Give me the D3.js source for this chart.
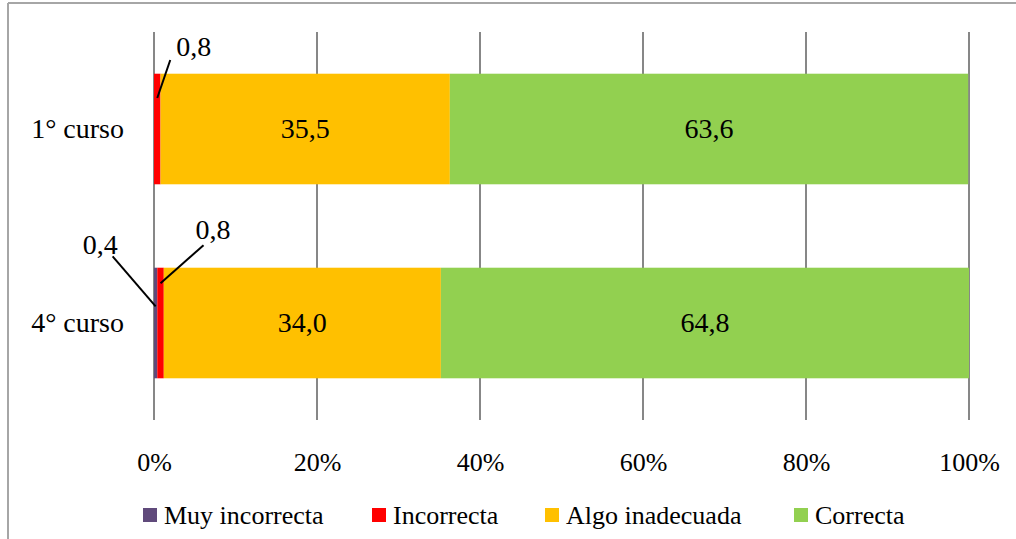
<!DOCTYPE html>
<html>
<head>
<meta charset="utf-8">
<script src="https://cdn.jsdelivr.net/npm/d3@7"></script>
<style>
  html, body { margin: 0; padding: 0; background: #fff; }
  svg { display: block; font-family: "Liberation Serif", "DejaVu Serif", serif; }
</style>
</head>
<body>
<svg id="chart" width="1016" height="539"></svg>
<script>
// Categories and series (percentages)
const categories = ["1° curso", "4° curso"];
const seriesNames = ["Muy incorrecta", "Incorrecta", "Algo inadecuada", "Correcta"];
const muyIncorrecta = [0, 0.4];
const incorrecta = [0.8, 0.8];
const algoInadecuada = [35.5, 34.0];
const correcta = [63.6, 64.8];
const tickValues = [0, 20, 40, 60, 80, 100];
const colors = ["#604a7b", "#ff0000", "#ffc000", "#92d050"];

const seriesValues = [muyIncorrecta, incorrecta, algoInadecuada, correcta];
const rows = categories.map((c, i) => {
  const r = { cat: c };
  seriesNames.forEach((s, j) => r[s] = seriesValues[j][i]);
  return r;
});

const svg = d3.select("#chart");
const W = 1016, H = 539;
const FONT = "Liberation Serif, DejaVu Serif, serif";

// outer frame (left and top edges visible)
svg.append("line").attr("x1", 8).attr("x2", 8).attr("y1", 3).attr("y2", H)
  .attr("stroke", "#a6a6a6").attr("stroke-width", 2);
svg.append("line").attr("x1", 8).attr("x2", W).attr("y1", 3).attr("y2", 3)
  .attr("stroke", "#a6a6a6").attr("stroke-width", 2);

const plot = { left: 154, right: 969, top: 32, bottom: 420 };
const x = d3.scaleLinear().domain([0, 100]).range([plot.left, plot.right]);
const y = d3.scaleBand().domain(categories).range([plot.top, plot.bottom]).paddingInner(0.43).paddingOuter(0.215);

// vertical gridlines
svg.append("g").selectAll("line").data(tickValues).join("line")
  .attr("x1", d => x(d)).attr("x2", d => x(d))
  .attr("y1", plot.top).attr("y2", plot.bottom)
  .attr("stroke", "#878787").attr("stroke-width", 2);

// x axis tick labels
const xAxis = d3.axisBottom(x).tickValues(tickValues).tickFormat(d => d + "%").tickSize(0).tickPadding(0);
const ax = svg.append("g").attr("transform", `translate(0, ${plot.bottom + 51})`).call(xAxis);
ax.select(".domain").remove();
ax.selectAll("text").attr("dy", 0).attr("font-size", 26).attr("fill", "#000")
  .attr("font-family", FONT);

// y axis category labels
const yAxis = d3.axisLeft(y).tickSize(0).tickPadding(0);
const ay = svg.append("g").attr("transform", `translate(${plot.left - 30}, 0)`).call(yAxis);
ay.select(".domain").remove();
ay.selectAll("text").attr("dy", "0.33em").attr("font-size", 28).attr("fill", "#000")
  .attr("font-family", FONT);

// stacked bars
const stack = d3.stack().keys(seriesNames);
const layers = stack(rows);

const gLayers = svg.append("g").selectAll("g").data(layers).join("g")
  .attr("fill", (d, i) => colors[i]);
gLayers.selectAll("rect").data(d => d).join("rect")
  .attr("x", d => x(d[0]))
  .attr("width", d => Math.max(0, x(d[1]) - x(d[0])))
  .attr("y", d => y(d.data.cat))
  .attr("height", y.bandwidth());

// value labels inside the wide segments
const fmt = v => v.toFixed(1).replace(".", ",");
[2, 3].forEach(li => {
  svg.append("g").selectAll("text").data(layers[li]).join("text")
    .attr("x", d => (x(d[0]) + x(d[1])) / 2)
    .attr("y", d => y(d.data.cat) + y.bandwidth() / 2)
    .attr("dy", "0.33em")
    .attr("text-anchor", "middle")
    .attr("font-size", 28)
    .text(d => fmt(d[1] - d[0]));
});

// leader-line labels for the thin segments
const leaders = [
  { layer: 1, row: 0, ax: 0.22, lx: 13, ly: -38, tx: 19, ty: -42 },
  { layer: 0, row: 1, ax: 0.35, lx: -43, ly: -50, tx: -73, ty: -52 },
  { layer: 1, row: 1, ax: 0.14, lx: 43, ly: -38, tx: 35, ty: -44 }
];
const gL = svg.append("g");
leaders.forEach(l => {
  const seg = layers[l.layer][l.row];
  const mx = (x(seg[0]) + x(seg[1])) / 2;
  const my = y(seg.data.cat) + y.bandwidth() * l.ax;
  gL.append("line")
    .attr("x1", mx).attr("y1", my)
    .attr("x2", mx + l.lx).attr("y2", my + l.ly)
    .attr("stroke", "#000").attr("stroke-width", 2);
  gL.append("text")
    .attr("x", mx + l.tx).attr("y", my + l.ty)
    .attr("font-size", 28)
    .text(fmt(seg[1] - seg[0]));
});

// legend
const legendX = [143, 372, 545, 794];
const lg = svg.append("g").attr("transform", "translate(0, 515)");
seriesNames.forEach((s, i) => {
  lg.append("rect").attr("x", legendX[i]).attr("y", -7).attr("width", 14).attr("height", 14)
    .attr("fill", colors[i]);
  lg.append("text").attr("x", legendX[i] + 21).attr("y", 0).attr("dy", "0.33em")
    .attr("font-size", 26).text(s);
});
</script>
</body>
</html>
